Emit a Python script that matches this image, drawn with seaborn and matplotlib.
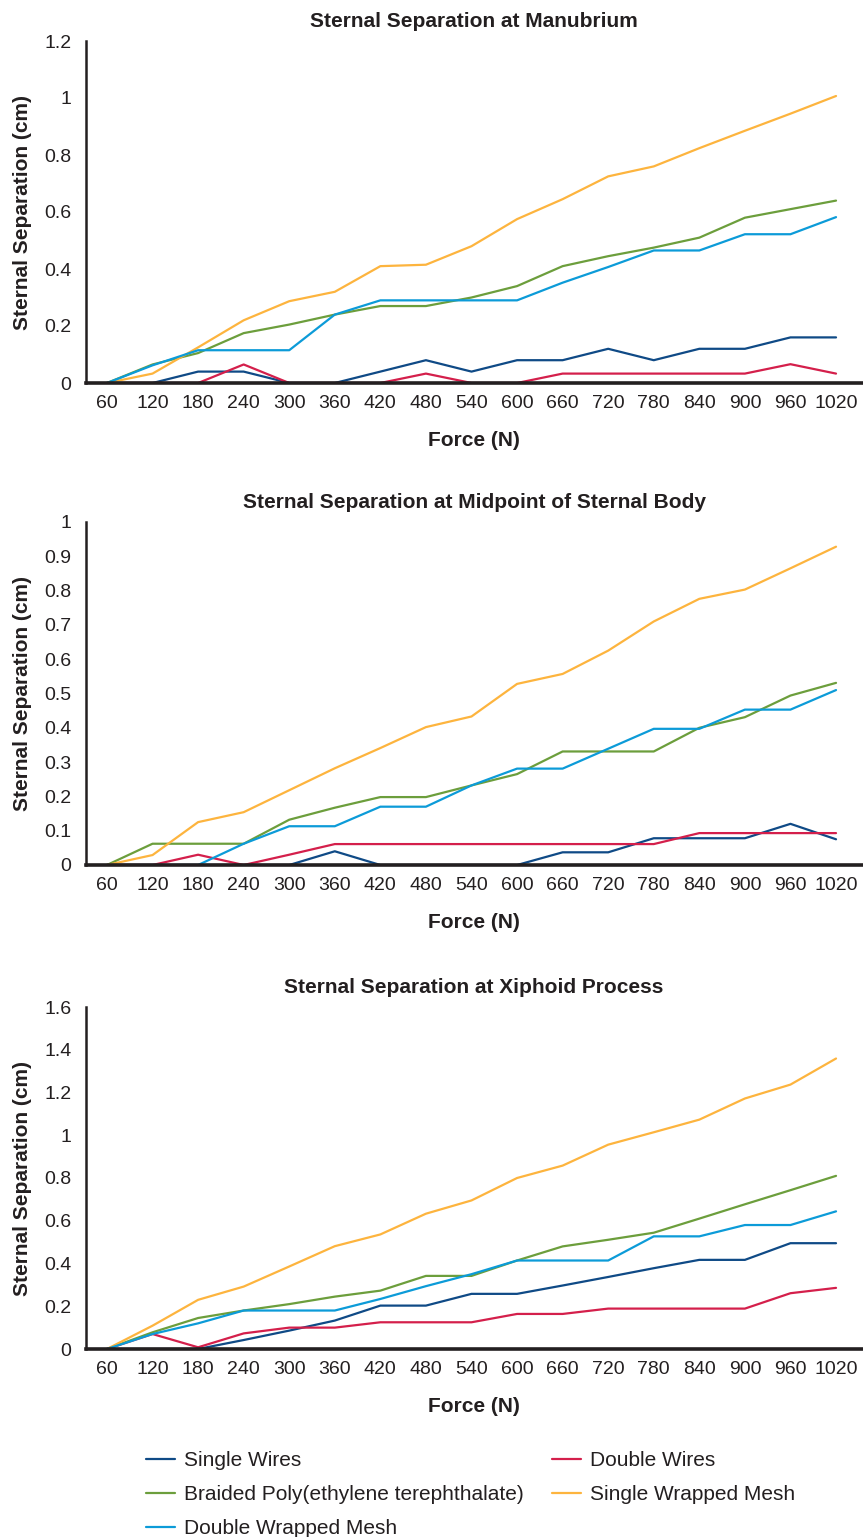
import matplotlib
matplotlib.use("Agg")
import matplotlib.pyplot as plt
from matplotlib.lines import Line2D
import seaborn as sns
import pandas as pd
import numpy as np

forces = [60, 120, 180, 240, 300, 360, 420, 480, 540, 600, 660, 720, 780, 840, 900, 960, 1020]
series_names = ["Single Wires", "Double Wires", "Braided Poly(ethylene terephthalate)",
                "Single Wrapped Mesh", "Double Wrapped Mesh"]

# Manubrium
single_wires_m = [0, 0, 0.04, 0.04, 0, 0, 0.04, 0.08, 0.04, 0.08, 0.08, 0.12, 0.08, 0.12, 0.12, 0.16, 0.16]
double_wires_m = [0, 0, 0, 0.065, 0, 0, 0, 0.033, 0, 0, 0.033, 0.033, 0.033, 0.033, 0.033, 0.066, 0.033]
braided_m = [0, 0.065, 0.105, 0.175, 0.205, 0.24, 0.27, 0.27, 0.30, 0.34, 0.41, 0.445, 0.475, 0.51, 0.58, 0.61, 0.64]
single_mesh_m = [0, 0.033, 0.125, 0.22, 0.287, 0.32, 0.41, 0.415, 0.48, 0.575, 0.645, 0.725, 0.76, 0.824, 0.885, 0.945, 1.007]
double_mesh_m = [0, 0.062, 0.115, 0.115, 0.115, 0.24, 0.29, 0.29, 0.29, 0.29, 0.352, 0.407, 0.465, 0.465, 0.522, 0.522, 0.582]

# Midpoint of sternal body
single_wires_b = [0, 0, 0, 0, 0, 0.04, 0, 0, 0, 0, 0.037, 0.037, 0.078, 0.078, 0.078, 0.12, 0.075]
double_wires_b = [0, 0, 0.03, 0, 0.03, 0.061, 0.061, 0.061, 0.061, 0.061, 0.061, 0.061, 0.061, 0.093, 0.093, 0.093, 0.093]
braided_b = [0, 0.062, 0.062, 0.062, 0.132, 0.167, 0.198, 0.198, 0.232, 0.265, 0.331, 0.331, 0.331, 0.4, 0.431, 0.494, 0.531]
single_mesh_b = [0, 0.029, 0.125, 0.154, 0.218, 0.282, 0.341, 0.402, 0.433, 0.528, 0.557, 0.625, 0.71, 0.776, 0.803, 0.865, 0.928]
double_mesh_b = [0, 0, 0, 0.062, 0.113, 0.113, 0.17, 0.17, 0.232, 0.281, 0.281, 0.339, 0.397, 0.397, 0.453, 0.453, 0.51]

# Xiphoid process
single_wires_x = [0, 0, 0, 0.042, 0.086, 0.133, 0.203, 0.203, 0.258, 0.258, 0.297, 0.337, 0.378, 0.417, 0.417, 0.495, 0.495]
double_wires_x = [0, 0.07, 0.008, 0.073, 0.1, 0.1, 0.125, 0.125, 0.125, 0.164, 0.164, 0.189, 0.189, 0.189, 0.189, 0.261, 0.286]
braided_x = [0, 0.078, 0.145, 0.18, 0.21, 0.245, 0.273, 0.342, 0.342, 0.414, 0.48, 0.511, 0.544, 0.61, 0.677, 0.743, 0.81]
single_mesh_x = [0, 0.109, 0.23, 0.292, 0.386, 0.481, 0.536, 0.633, 0.695, 0.8, 0.858, 0.956, 1.014, 1.073, 1.172, 1.237, 1.359]
double_mesh_x = [0, 0.07, 0.12, 0.18, 0.18, 0.18, 0.234, 0.294, 0.35, 0.414, 0.414, 0.414, 0.527, 0.527, 0.58, 0.58, 0.644]

titles = ["Sternal Separation at Manubrium",
          "Sternal Separation at Midpoint of Sternal Body",
          "Sternal Separation at Xiphoid Process"]
y_max = [1.2, 1.0, 1.6]
y_step = [0.2, 0.1, 0.2]

panels = [
    [single_wires_m, double_wires_m, braided_m, single_mesh_m, double_mesh_m],
    [single_wires_b, double_wires_b, braided_b, single_mesh_b, double_mesh_b],
    [single_wires_x, double_wires_x, braided_x, single_mesh_x, double_mesh_x],
]

colors = {
    "Single Wires": "#0f4a86",
    "Double Wires": "#d41f4b",
    "Braided Poly(ethylene terephthalate)": "#6c9e3c",
    "Single Wrapped Mesh": "#fdb43e",
    "Double Wrapped Mesh": "#0c9bd8",
}

sns.set_style("white")
plt.rcParams["font.family"] = ["Liberation Sans", "DejaVu Sans"]
text_color = "#231f20"
plt.rcParams["text.color"] = text_color
plt.rcParams["axes.labelcolor"] = text_color
plt.rcParams["xtick.color"] = text_color
plt.rcParams["ytick.color"] = text_color

W, H = 863, 1537
fig = plt.figure(figsize=(W / 100, H / 100), dpi=100)

axes_px = [(41, 383), (522, 865), (1007, 1349)]
left_px, right_px = 86, 862

for i, (top, bottom) in enumerate(axes_px):
    ax = fig.add_axes([left_px / W, 1 - bottom / H, (right_px - left_px) / W, (bottom - top) / H])
    rows = []
    for name, vals in zip(series_names, panels[i]):
        for f, v in zip(forces, vals):
            rows.append({"Force": f, "Separation": v, "Series": name})
    df = pd.DataFrame(rows)
    sns.lineplot(data=df, x="Force", y="Separation", hue="Series", palette=colors,
                 hue_order=series_names, linewidth=1.6, ax=ax, legend=False)
    ax.set_xlim(60 - 0.46 * 60, 1020 + 0.57 * 60)
    ax.set_ylim(0, y_max[i])
    ax.set_xticks(forces)
    ax.set_xticklabels([str(f) for f in forces], fontsize=14)
    yt = np.round(np.arange(0, y_max[i] + 1e-9, y_step[i]), 2)
    ax.set_yticks(yt)
    ax.set_yticklabels([f"{t:g}" for t in yt], fontsize=14)
    ax.tick_params(axis="x", length=0, pad=9)
    ax.tick_params(axis="y", length=5.5, width=1.8, pad=5, direction="out")
    for s in ["top", "right"]:
        ax.spines[s].set_visible(False)
    ax.spines["left"].set_linewidth(1.8)
    ax.spines["left"].set_color(text_color)
    ax.spines["bottom"].set_linewidth(2.6)
    ax.spines["bottom"].set_color(text_color)
    ax.set_xlabel("Force (N)", fontsize=15, fontweight="bold", labelpad=13)
    ax.set_ylabel("Sternal Separation (cm)", fontsize=15, fontweight="bold", labelpad=9)
    ax.set_title(titles[i], fontsize=15, fontweight="bold", pad=10)
    ax.grid(False)

legend_order = ["Single Wires", "Braided Poly(ethylene terephthalate)", "Double Wrapped Mesh",
                "Double Wires", "Single Wrapped Mesh"]
handles = [Line2D([0], [0], color=colors[n], linewidth=1.6) for n in legend_order]
fig.legend(handles, legend_order, loc="upper left", bbox_to_anchor=(146 / W, 1 - 1451 / H),
           ncol=2, frameon=False, fontsize=15, borderpad=0, borderaxespad=0,
           handlelength=1.4, handletextpad=0.43, columnspacing=1.35, labelspacing=0.72)

fig.savefig("out.png", dpi=100)
